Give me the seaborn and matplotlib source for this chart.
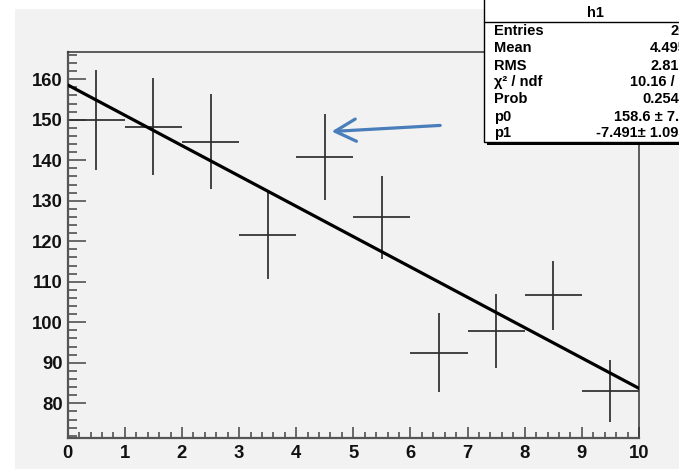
import matplotlib
matplotlib.use("Agg")
import matplotlib.pyplot as plt
from matplotlib.patches import Rectangle
from matplotlib.lines import Line2D
from matplotlib.ticker import MultipleLocator
import numpy as np
import pandas as pd
import seaborn as sns

# Histogram h1: bin centres, contents and errors
bin_centers = [0.5, 1.5, 2.5, 3.5, 4.5, 5.5, 6.5, 7.5, 8.5, 9.5]
bin_contents = [150.0, 148.3, 144.6, 121.6, 140.8, 125.9, 92.5, 97.9, 106.7, 83.0]
bin_errors = [12.3, 12.0, 11.7, 11.0, 10.5, 10.2, 9.7, 9.2, 8.5, 7.7]
bin_half_width = 0.5

# Linear fit parameters (pol1)
p0 = 158.6
p1 = -7.491
fit_range = [0.0, 10.0]

# Statistics box
stat_names = ["Entries", "Mean", "RMS", "\u03c7\u00b2 / ndf", "Prob", "p0", "p1"]
stat_values = ["20", "4.495", "2.810", "10.16 / 8", "0.2543",
               "158.6 \u00b1 7.6", "-7.491\u00b1 1.093"]
hist_title = "h1"

W, H = 679, 469
BG = "#f2f2f2"

sns.set_theme(style="white")
plt.rcParams["font.family"] = ["Liberation Sans", "DejaVu Sans"]

fig = plt.figure(figsize=(W / 100, H / 100), dpi=100)
fig.patch.set_facecolor("white")


def fx(x):
    return x / W


def fy(y):
    return 1 - y / H


# grey canvas behind the pad
fig.patches.append(Rectangle((fx(15), 0), 1 - fx(15), fy(9), transform=fig.transFigure,
                             facecolor=BG, edgecolor="none", zorder=0))

ax = fig.add_axes([fx(67.7), fy(438.3), fx(639) - fx(67.7), fy(51.7) - fy(438.3)])
ax.set_zorder(2)
ax.set_facecolor(BG)

# data points with errors
ax.errorbar(bin_centers, bin_contents, xerr=bin_half_width, yerr=bin_errors,
            fmt="none", ecolor="#2e2e2e", elinewidth=1.25, capsize=0, zorder=2)

# fitted line
fit_df = pd.DataFrame({"x": fit_range})
fit_df["y"] = p0 + p1 * fit_df["x"]
sns.lineplot(data=fit_df, x="x", y="y", ax=ax, color="black", linewidth=2.3, zorder=3)

ax.set_xlim(0, 10)
ax.set_ylim(71.36, 166.8)
ax.set_xlabel("")
ax.set_ylabel("")

ax.xaxis.set_major_locator(MultipleLocator(1))
ax.xaxis.set_minor_locator(MultipleLocator(0.2))
ax.yaxis.set_major_locator(MultipleLocator(10))
ax.yaxis.set_minor_locator(MultipleLocator(2))
ax.set_yticks([80, 90, 100, 110, 120, 130, 140, 150, 160])

ax.tick_params(axis="x", which="major", direction="in", length=8, width=1.1,
               color="#444444", pad=5, labelsize=13.3, bottom=True, top=False)
ax.tick_params(axis="x", which="minor", direction="in", length=4, width=1.1,
               color="#444444", bottom=True, top=False)
ax.tick_params(axis="y", which="major", direction="in", length=13, width=1.1,
               color="#444444", pad=3.4, labelsize=13.3, left=True, right=False)
ax.tick_params(axis="y", which="minor", direction="in", length=6.5, width=1.1,
               color="#444444", left=True, right=False)
for lab in ax.get_xticklabels() + ax.get_yticklabels():
    lab.set_fontweight("bold")
    lab.set_color("#111111")

for side in ["left", "bottom"]:
    ax.spines[side].set_color("#555555")
    ax.spines[side].set_linewidth(1.6)
for side in ["top", "right"]:
    ax.spines[side].set_color("#333333")
    ax.spines[side].set_linewidth(1.1)

# arrow pointing at the outlying bin
ax.annotate("", xy=(4.62, 147.1), xytext=(6.52, 148.6),
            arrowprops=dict(arrowstyle="->,head_length=0.75,head_width=0.4",
                            color="#4a7ebb", lw=2.3, mutation_scale=20,
                            shrinkA=0, shrinkB=0),
            annotation_clip=False, zorder=5)

# statistics box with shadow
bx0, bx1, by0, by1 = 484, 706, -2, 141.7
fig.patches.append(Rectangle((fx(bx0 + 3), fy(by1 + 3)), fx(bx1) - fx(bx0), fy(by0) - fy(by1),
                             transform=fig.transFigure, facecolor="black",
                             edgecolor="none", zorder=10))
fig.patches.append(Rectangle((fx(bx0), fy(by1)), fx(bx1) - fx(bx0), fy(by0) - fy(by1),
                             transform=fig.transFigure, facecolor="white",
                             edgecolor="black", linewidth=1.0, zorder=11))
fig.lines.append(Line2D([fx(bx0), fx(bx1)], [fy(21.7), fy(21.7)], transform=fig.transFigure,
                        color="black", linewidth=1.0, zorder=12))
fig.text(fx(595), fy(13), hist_title, ha="center", va="center", fontsize=10.5,
         fontweight="bold", color="black", zorder=13)
row_y = [31, 48.3, 65.7, 82, 99.3, 116.7, 133.3]
for name, val, y in zip(stat_names, stat_values, row_y):
    fig.text(fx(494), fy(y), name, ha="left", va="center", fontsize=10.5,
             fontweight="bold", color="black", zorder=13)
    fig.text(fx(687), fy(y), val, ha="right", va="center", fontsize=10.5,
             fontweight="bold", color="black", zorder=13)

fig.savefig("out.png", dpi=100, facecolor=fig.get_facecolor())
